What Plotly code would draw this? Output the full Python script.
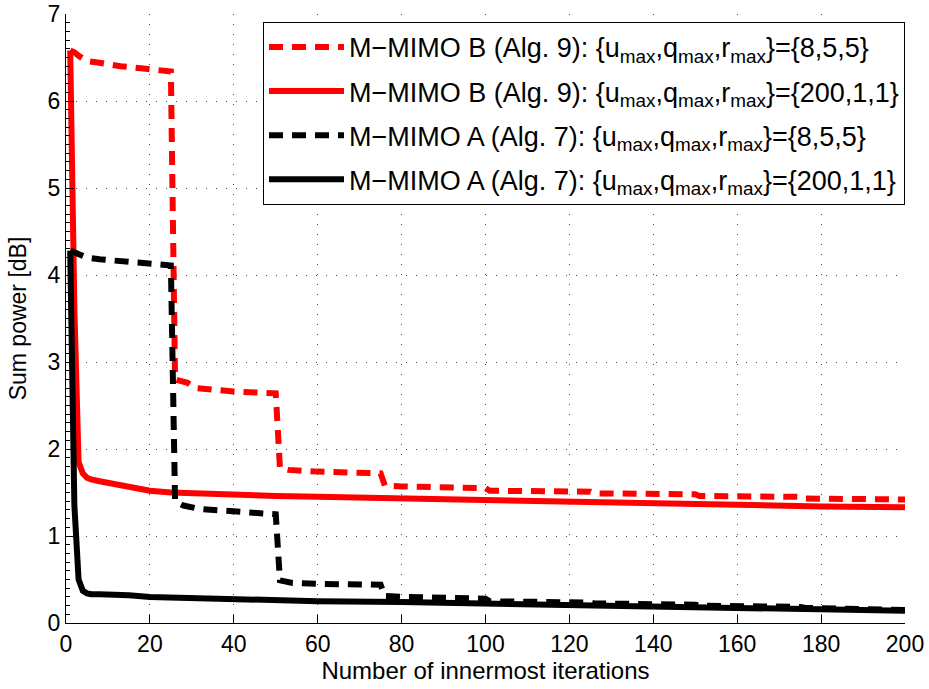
import plotly.graph_objects as go

# ---- data ----
iter_b_855 = [1, 2, 3, 4, 5, 8, 13, 19, 25, 26, 29, 31, 40, 50, 51, 53, 60, 75, 76, 80, 90, 100,
              101, 110, 125, 126, 140, 150, 151, 160, 175, 176, 190, 200]
pow_b_855 = [6.58, 6.56, 6.52, 6.48, 6.46, 6.44, 6.40, 6.37, 6.34, 2.80, 2.76, 2.70, 2.66, 2.64,
             1.78, 1.76, 1.74, 1.72, 1.58, 1.57, 1.56, 1.55,
             1.52, 1.52, 1.51, 1.49, 1.48, 1.48, 1.46, 1.46, 1.45, 1.43, 1.42, 1.42]

iter_b_200 = [1, 2, 3, 4, 5, 6, 8, 10, 13, 15, 20, 25, 30, 40, 50, 60, 80, 100, 120, 140, 160, 180, 200]
pow_b_200 = [6.58, 3.60, 1.85, 1.72, 1.67, 1.65, 1.63, 1.61, 1.59, 1.57, 1.52, 1.50, 1.49, 1.47,
             1.46, 1.45, 1.43, 1.41, 1.39, 1.37, 1.35, 1.34, 1.33]

iter_a_855 = [1, 2, 3, 4, 5, 8, 14, 20, 25, 26, 28, 32, 39, 46, 50, 51, 54, 60, 75, 76, 80, 100,
              101, 125, 126, 150, 151, 175, 176, 200]
pow_a_855 = [4.28, 4.26, 4.23, 4.21, 4.20, 4.18, 4.15, 4.13, 4.11, 1.40, 1.35, 1.31, 1.28, 1.26, 1.25,
             0.49, 0.46, 0.45, 0.44, 0.31, 0.30, 0.28,
             0.25, 0.235, 0.225, 0.21, 0.20, 0.185, 0.175, 0.15]

iter_a_200 = [1, 2, 3, 4, 5, 6, 8, 12, 15, 20, 30, 40, 60, 80, 100, 120, 140, 160, 180, 200]
pow_a_200 = [4.28, 1.35, 0.50, 0.37, 0.34, 0.33, 0.33, 0.33, 0.32, 0.30, 0.285, 0.27, 0.25, 0.24,
             0.225, 0.21, 0.195, 0.18, 0.16, 0.14]

names = [
    "M\u2212MIMO B (Alg. 9): {u<sub>max</sub>,q<sub>max</sub>,r<sub>max</sub>}={8,5,5}",
    "M\u2212MIMO B (Alg. 9): {u<sub>max</sub>,q<sub>max</sub>,r<sub>max</sub>}={200,1,1}",
    "M\u2212MIMO A (Alg. 7): {u<sub>max</sub>,q<sub>max</sub>,r<sub>max</sub>}={8,5,5}",
    "M\u2212MIMO A (Alg. 7): {u<sub>max</sub>,q<sub>max</sub>,r<sub>max</sub>}={200,1,1}",
]

x_ticks = list(range(0, 201, 20))
y_ticks = list(range(0, 8))

RED = "#ff0000"
BLACK = "#000000"
DASH = "14px,9px"

fig = go.Figure()
series = [
    (iter_b_855, pow_b_855, RED, DASH),
    (iter_b_200, pow_b_200, RED, "solid"),
    (iter_a_855, pow_a_855, BLACK, DASH),
    (iter_a_200, pow_a_200, BLACK, "solid"),
]
for i, (xs, ys, col, dash) in enumerate(series):
    fig.add_trace(go.Scatter(x=xs, y=ys, mode="lines", name=names[i], legendgroup=f"g{i}",
                             line=dict(color=col, width=6, dash=dash)))

FONT = "Liberation Sans, Arial, Helvetica, sans-serif"
fig.update_layout(
    width=929, height=689, autosize=False,
    margin=dict(l=66, r=24, t=14, b=66),
    plot_bgcolor="white", paper_bgcolor="white",
    font=dict(family=FONT, size=23, color="black"),
    showlegend=True,
    legend=dict(x=1, xanchor="right", y=0.987, yanchor="top",
                bordercolor="black", borderwidth=1, bgcolor="white",
                itemwidth=75, tracegroupgap=6,
                font=dict(family=FONT, size=27, color="black")),
)
grid = dict(showgrid=True, gridcolor="#444444", gridwidth=1, griddash="1px,9px", zeroline=False,
            showline=True, linecolor="black", linewidth=1, ticks="inside", ticklen=8,
            tickcolor="black", tickwidth=1, automargin=False)
fig.update_xaxes(range=[0, 200], tickvals=x_ticks, ticktext=[str(v) for v in x_ticks],
                 title=dict(text="Number of innermost iterations", standoff=0,
                            font=dict(family=FONT, size=24)), **grid)
fig.update_yaxes(range=[0, 7], tickvals=y_ticks, ticktext=[str(v) for v in y_ticks],
                 title=dict(text="Sum power [dB]", standoff=14, font=dict(family=FONT, size=23)),
                 minor=dict(dtick=0.1, tick0=0, ticks="inside", ticklen=4, tickcolor="black", showgrid=False),
                 **grid)

fig.write_html("out.html")
